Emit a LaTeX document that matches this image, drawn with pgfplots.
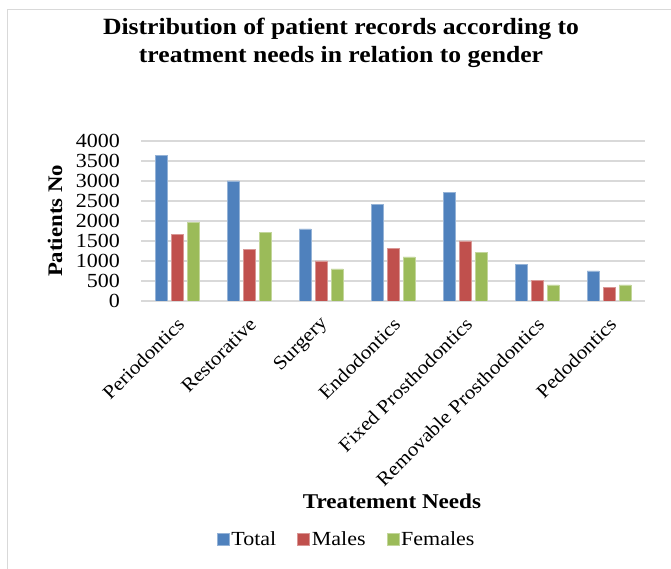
\documentclass[border=0pt]{standalone}
\usepackage{fontspec}
\setmainfont{Liberation Serif}[FakeStretch=1.1]
\usepackage{pgfplots}
\pgfplotsset{compat=1.18}
\definecolor{cT}{HTML}{4F81BD}
\definecolor{cM}{HTML}{C0504D}
\definecolor{cF}{HTML}{9BBB59}
\definecolor{gridc}{HTML}{D9D9D9}
\begin{document}
\begin{tikzpicture}[x=1pt,y=1pt]
\useasboundingbox (0,0) rectangle (671,569);
\draw[color=gridc, line width=1.5pt] (7.5,0) -- (7.5,559.5) -- (671,559.5);
\node[font=\bfseries\fontsize{23.3}{28}\selectfont, anchor=base, inner sep=0pt] at (341,534) {Distribution of patient records according to};
\node[font=\bfseries\fontsize{23.3}{28}\selectfont, anchor=base, inner sep=0pt] at (341,506) {treatment needs in relation to gender};
\node[font=\bfseries\fontsize{20.7}{24}\selectfont, rotate=90, anchor=center, inner sep=0pt] at (55,348) {Patients No};
\node[font=\bfseries\fontsize{21}{24}\selectfont, anchor=base, inner sep=0pt] at (392,60) {Treatement Needs};
\begin{axis}[
  at={(141pt,268pt)}, anchor=south west,
  scale only axis, width=504pt, height=160pt,
  ymin=0, ymax=4000, xmin=-0.5, xmax=6.5,
  ytick={0,500,...,4000},
  xtick={0,...,6},
  xticklabels={Periodontics,Restorative,Surgery,Endodontics,Fixed Prosthodontics,Removable Prosthodontics,Pedodontics},
  ybar=4pt, bar width=12pt,
  axis line style={draw=none},
  major tick length=0pt,
  ymajorgrids, grid style={gridc, line width=1.5pt},
  font=\fontsize{20}{24}\selectfont,
  /pgf/number format/assume math mode=true,
  /pgf/number format/1000 sep={},
  scaled y ticks=false,
  yticklabel style={anchor=east, inner sep=0pt, xshift=-21pt},
  xticklabel style={anchor=east, inner sep=0pt, xshift=4pt, yshift=-20pt, rotate=45, font=\fontsize{19.3}{23}\selectfont},
  legend style={at={(axis description cs:0.408,-1.4875)}, anchor=center, draw=none, legend columns=-1, font=\fontsize{20}{24}\selectfont,
    /tikz/every even column/.append style={column sep=19pt}},
  legend image code/.code={\fill[#1] (0pt,-6pt) rectangle (12pt,6pt);},
]
\addplot[fill=cT, draw=cT!60!white, line width=0.6pt] coordinates {(0,3630) (1,3000) (2,1800) (3,2420) (4,2710) (5,905) (6,750)};
\addplot[fill=cM, draw=cM!60!white, line width=0.6pt] coordinates {(0,1665) (1,1290) (2,1000) (3,1320) (4,1500) (5,515) (6,340)};
\addplot[fill=cF, draw=cF!60!white, line width=0.6pt] coordinates {(0,1955) (1,1705) (2,800) (3,1100) (4,1215) (5,400) (6,400)};
\legend{Total,Males,Females}
\end{axis}
\end{tikzpicture}
\end{document}
